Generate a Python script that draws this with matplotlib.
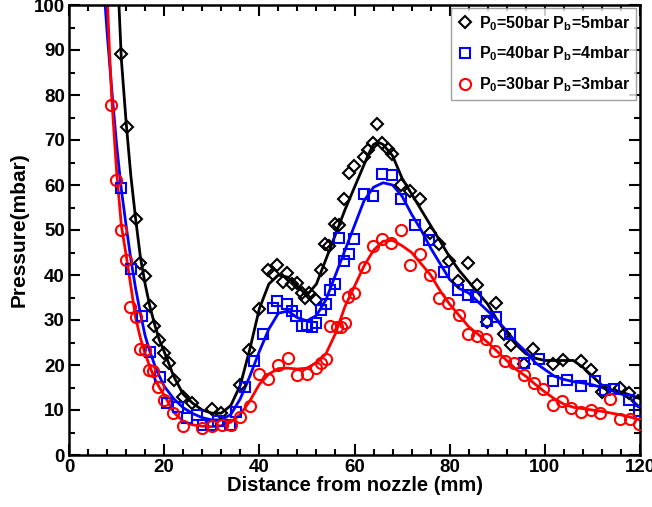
import matplotlib
matplotlib.use("Agg")
import matplotlib.pyplot as plt
from matplotlib.ticker import MultipleLocator

plt.rcParams['font.family'] = ['Liberation Sans', 'DejaVu Sans']
plt.rcParams['font.weight'] = 'bold'
plt.rcParams['mathtext.fontset'] = 'custom'
plt.rcParams['mathtext.rm'] = 'Liberation Sans:bold'
plt.rcParams['mathtext.it'] = 'Liberation Sans:bold'
plt.rcParams['mathtext.bf'] = 'Liberation Sans:bold'

# ---- measured points ----
x50 = [10.9, 12.1, 14.1, 14.9, 16.0, 17.0, 17.9, 18.9, 20.0, 21.0, 22.0, 23.9, 25.9,
       30.1, 32.0, 35.9, 37.9, 39.9, 41.9, 42.9, 43.8, 44.9, 45.9, 46.9, 48.0, 48.9,
       49.6, 50.5, 51.9, 52.9, 53.8, 54.6, 56.0, 56.8, 57.8, 58.9, 59.8, 62.0, 62.9,
       63.8, 64.8, 65.7, 67.1, 67.8, 69.7, 71.7, 73.8, 75.9, 77.8, 79.8, 81.8, 83.8,
       85.8, 87.8, 89.7, 91.5, 92.8, 95.7, 97.6, 101.8, 103.8, 107.7, 109.7, 112.0,
       115.7, 117.7, 119.6]
y50 = [89.1, 72.8, 52.4, 42.6, 39.8, 33.1, 28.7, 25.6, 22.6, 20.4, 16.7, 13.0, 11.6,
       10.3, 9.4, 15.5, 23.3, 32.4, 41.1, 40.2, 42.2, 38.4, 40.4, 38.1, 38.3, 35.9,
       34.8, 36.0, 34.4, 41.1, 46.9, 46.5, 51.3, 51.1, 57.0, 62.6, 64.2, 66.3, 67.8,
       69.4, 73.5, 69.4, 67.9, 67.0, 60.0, 58.7, 56.8, 49.3, 46.9, 43.2, 38.6, 42.6,
       37.8, 29.5, 33.8, 26.8, 24.5, 20.3, 23.5, 20.3, 21.2, 20.9, 18.9, 14.1,
       14.8, 13.8, 12.1]

x40 = [10.9, 13.0, 15.3, 17.0, 19.1, 20.7, 23.0, 24.8, 26.9, 28.2, 29.8, 31.3, 33.8,
       35.0, 37.0, 38.8, 40.8, 42.8, 43.8, 45.8, 46.8, 47.7, 48.9, 50.0, 51.1, 51.9,
       52.9, 54.0, 54.8, 55.9, 56.8, 57.8, 58.9, 59.8, 61.9, 63.8, 65.7, 67.8, 69.8,
       72.8, 75.7, 78.8, 81.7, 83.8, 85.6, 87.8, 89.8, 92.7, 95.7, 98.8, 101.7, 104.6,
       107.6, 110.6, 112.6, 114.5, 117.6, 119.7]
y40 = [59.3, 41.3, 30.8, 22.8, 17.4, 11.5, 10.7, 8.3, 8.8, 6.7, 6.7, 7.5, 6.7,
       9.5, 15.2, 20.8, 26.8, 32.6, 34.3, 33.6, 32.1, 31.0, 28.7, 28.9, 28.5, 29.3,
       32.2, 33.6, 36.7, 37.9, 48.2, 43.1, 44.7, 48.1, 58.0, 57.5, 62.4, 62.2, 56.8,
       51.2, 47.7, 40.6, 36.6, 35.6, 35.1, 29.8, 30.6, 26.8, 20.4, 21.4, 16.4, 16.7,
       15.4, 16.4, 14.4, 14.6, 12.2, 9.8]

x30 = [8.9, 9.9, 10.9, 12.0, 12.9, 14.0, 14.9, 16.0, 16.9, 17.7, 18.8, 19.9, 21.9,
       24.0, 28.0, 30.0, 32.1, 34.1, 35.9, 38.0, 39.9, 41.9, 44.0, 46.0, 47.9, 50.0,
       51.9, 53.0, 54.0, 54.9, 56.3, 57.2, 58.1, 58.7, 59.9, 61.9, 63.8, 65.7, 67.7,
       69.8, 71.7, 73.7, 75.8, 77.7, 79.7, 81.9, 83.8, 85.7, 87.7, 89.6, 91.7, 93.6,
       95.7, 97.7, 99.7, 101.7, 103.7, 105.6, 107.6, 109.7, 111.6, 113.6, 115.7,
       117.8, 119.7]
y30 = [77.8, 61.1, 49.9, 43.3, 33.0, 30.6, 23.5, 23.3, 18.9, 18.6, 15.2, 12.3, 9.3,
       6.5, 6.0, 6.5, 6.7, 6.7, 8.5, 11.0, 17.9, 17.0, 20.0, 21.5, 17.8, 18.1,
       19.3, 20.5, 21.4, 28.6, 28.4, 28.4, 29.3, 35.1, 36.0, 41.8, 46.4, 48.1, 47.2,
       50.1, 42.2, 44.6, 40.1, 35.0, 33.8, 31.2, 26.8, 26.5, 25.7, 23.2, 20.8, 20.4,
       17.7, 16.1, 14.7, 11.1, 11.9, 10.4, 9.6, 9.9, 9.3, 12.4, 8.1,
       7.9, 7.0]

# ---- fitted curves ----
fx50 = [10.5, 11, 12, 13, 14, 15, 16, 17, 18, 19, 20, 22, 24, 26, 28, 30, 32, 34, 36, 38,
        40, 42, 44, 46, 48, 50, 52, 54, 56, 58, 60, 62, 63, 64, 65, 66, 68, 70, 72, 74,
        76, 78, 80, 82, 84, 86, 88, 90, 92, 94, 96, 98, 100, 102, 104, 106, 108, 110,
        112, 114, 116, 118, 120]
fy50 = [100, 88, 74, 62, 52.5, 44, 38, 33, 29, 25.5, 23, 17.5, 13.5, 11.5, 10, 9.3, 9.3,
        11, 15.5, 23.5, 32.5, 38, 40, 39.5, 37.5, 35.5, 38, 43.5, 49, 54.5, 59.5, 64.5,
        67, 69, 69.5, 69, 66.5, 61.5, 58, 54.5, 51, 47.5, 44, 41, 38.5, 36, 33.5, 30, 27,
        24.5, 22.5, 21.5, 21, 21, 21, 21, 19.5, 17.5, 15.5, 14.5, 14, 13.3, 12.5]

fx40 = [7.6, 8, 9, 10, 11, 12, 13, 14, 15, 16, 17, 18, 19, 20, 22, 24, 26, 28, 30, 32, 34,
        36, 38, 40, 42, 44, 46, 48, 50, 52, 54, 56, 58, 60, 62, 64, 66, 68, 70, 72, 74,
        76, 78, 80, 82, 84, 86, 88, 90, 92, 94, 96, 98, 100, 102, 104, 106, 108, 110,
        112, 114, 116, 118, 120]
fy40 = [100, 94, 81, 69, 59, 51, 43.5, 37, 31.5, 26.5, 23, 20, 17.5, 15.3, 12.5, 10.5,
        9.2, 8.3, 7.8, 7.8, 9, 12.5, 17.5, 23, 28, 31.5, 32, 30.5, 29.8, 31, 34.5, 40,
        45.5, 51, 56.5, 59.5, 60.5, 60, 57.5, 53.5, 50, 46, 42.5, 39, 37, 36, 34, 32, 30,
        27.5, 25, 23, 20.5, 19, 17.5, 16.8, 16.3, 16, 15.6, 15, 14.3, 13.6, 12.5, 10.5]

fx30 = [8.1, 8.5, 9, 10, 11, 12, 13, 14, 15, 16, 17, 18, 19, 20, 22, 24, 26, 28, 30, 32,
        34, 36, 38, 40, 42, 44, 46, 48, 50, 52, 54, 56, 58, 60, 62, 64, 66, 68, 70, 72,
        74, 76, 78, 80, 82, 84, 86, 88, 90, 92, 94, 96, 98, 100, 102, 104, 106, 108, 110,
        112, 114, 116, 118, 120]
fy30 = [100, 90, 79, 63, 51, 44.5, 37.5, 30.5, 26, 22.5, 19.6, 17, 15, 13.3, 9.5, 7.5,
        6.7, 6.4, 6.3, 6.5, 7.3, 9, 12, 15.7, 18, 19.2, 19.3, 19.1, 19.3, 20.5, 22.5, 27,
        33, 37.5, 42, 45.5, 47.5, 47.7, 46.5, 45, 42.5, 40, 36.5, 33.5, 31, 28.5, 26.8,
        25, 23, 21, 19, 17.5, 15.7, 14, 12.5, 11.3, 10.6, 10.3, 10, 9.7, 9.3, 8.9, 8.4, 7.8]

labels = [r'$\mathbf{P_0}$=50bar $\mathbf{P_b}$=5mbar',
          r'$\mathbf{P_0}$=40bar $\mathbf{P_b}$=4mbar',
          r'$\mathbf{P_0}$=30bar $\mathbf{P_b}$=3mbar']

fig = plt.figure(figsize=(6.52, 5.07), dpi=100)
ax = fig.add_axes([69/652, 52/507, 571/652, 450/507])

lw = 2.0
ax.plot(fx50, fy50, color='black', lw=lw, zorder=2)
ax.plot(fx40, fy40, color='#0000ff', lw=lw, zorder=2)
ax.plot(fx30, fy30, color='#ff0000', lw=lw, zorder=2)

ax.plot(x50, y50, ls='none', marker='D', ms=6.5, mfc='none', mec='black', mew=1.5,
        label=labels[0], zorder=3)
ax.plot(x40, y40, ls='none', marker='s', ms=6.5, mfc='none', mec='#0000ff', mew=1.5,
        label=labels[1], zorder=3)
ax.plot(x30, y30, ls='none', marker='o', ms=8, mfc='none', mec='#ff0000', mew=1.5,
        label=labels[2], zorder=3)

ax.set_xlim(0, 120)
ax.set_ylim(0, 100)
ax.xaxis.set_major_locator(MultipleLocator(20))
ax.xaxis.set_minor_locator(MultipleLocator(4))
ax.yaxis.set_major_locator(MultipleLocator(10))
ax.yaxis.set_minor_locator(MultipleLocator(5))
ax.tick_params(which='both', direction='in', top=True, right=True, width=1.5,
               labelsize=13.5, pad=3)
ax.tick_params(which='major', length=8)
ax.tick_params(which='minor', length=4)
for s in ax.spines.values():
    s.set_linewidth(1.8)
for lab in ax.get_xticklabels() + ax.get_yticklabels():
    lab.set_fontweight('bold')

ax.set_xlabel('Distance from nozzle (mm)', fontsize=14.5, fontweight='bold', labelpad=0)
ax.set_ylabel('Pressure(mbar)', fontsize=15, fontweight='bold', labelpad=4)

leg = ax.legend(loc='upper right', bbox_to_anchor=(0.997, 0.998), fontsize=11.5,
                frameon=True, fancybox=False, edgecolor='#888888', handletextpad=0.4,
                borderpad=0.35, labelspacing=0.75, handlelength=1.0, borderaxespad=0.15)
leg.get_frame().set_linewidth(1.0)
for t in leg.get_texts():
    t.set_fontweight('bold')

fig.savefig('out.png', dpi=100)
